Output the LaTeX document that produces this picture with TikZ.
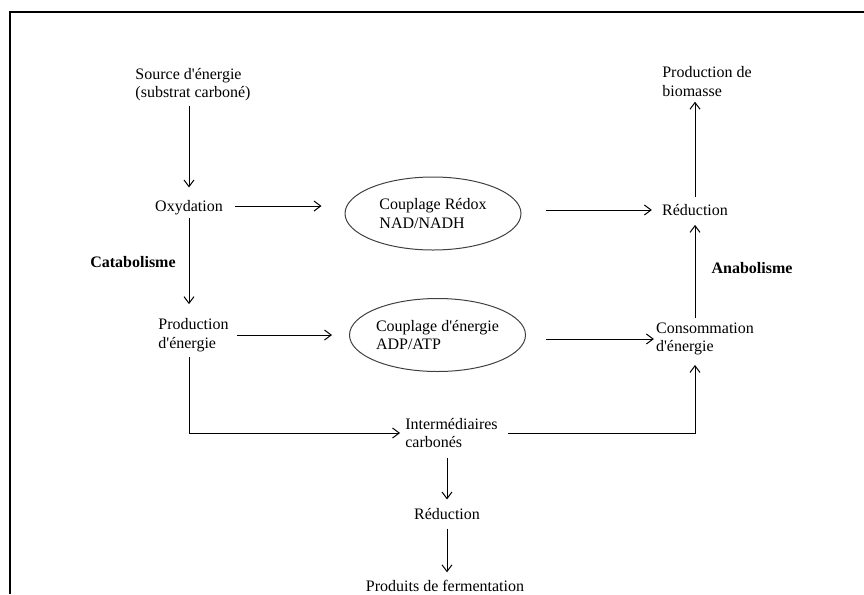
\documentclass[tikz,border=0pt]{standalone}
\usepackage{fontspec}
\setmainfont{Liberation Serif}
\usepackage{tikz}
\usetikzlibrary{arrows.meta,shapes.geometric,calc}
\newcommand{\apo}{\textquotesingle}

\begin{document}
\begin{tikzpicture}[x=0.75pt,y=-0.75pt,
  every node/.style={font=\fontsize{12pt}{14pt}\selectfont,inner sep=0pt,align=left},
  arr/.style={line width=0.75pt,-{Straight Barb[length=5pt,width=7.5pt]}},
  ell/.style={ellipse,draw=black!75,line width=0.75pt,minimum width=132pt,minimum height=54.75pt}]
\useasboundingbox (0,0) rectangle (864,594);
\draw[line width=1.5pt] (864,12) -- (10,12) -- (10,594);
% catabolisme
\node (src) at (193,84.5) {Source d\apo énergie\\(substrat carboné)};
\node (oxy) at (189,208) {Oxydation};
\node[font=\fontsize{12pt}{14pt}\selectfont\bfseries] (cat) at (133,262) {Catabolisme};
\node (prod) at (193.5,335) {Production\\d\apo énergie};
% couplages
\node[ell] (redox) at (433,213.5) {Couplage Rédox\\NAD/NADH};
\node[ell] (nrj) at (437.5,335) {Couplage d\apo énergie\\ADP/ATP};
% anabolisme
\node (red) at (695,210) {Réduction};
\node (bio) at (707,81.5) {Production de\\biomasse};
\node (conso) at (705,339) {Consommation\\d\apo énergie};
\node[font=\fontsize{12pt}{14pt}\selectfont\bfseries] (ana) at (752,268) {Anabolisme};
% fermentation
\node (inter) at (451.5,433) {Intermédiaires\\carbonés};
\node (redf) at (447,514) {Réduction};
\node (ferm) at (445,586) {Produits de fermentation};

\draw[arr,shorten <=3.75pt,shorten >=9.75pt] (src.south -| oxy) -- (oxy.north);
\draw[arr,shorten <=9pt,shorten >=17.25pt] ([yshift=1.5pt]oxy.east) -- ([yshift=1.5pt]oxy.east -| redox.west);
\draw[arr,shorten <=18pt,shorten >=7.5pt] (red.west -| redox.east) -- (red.west);
\draw[arr,shorten <=5.25pt,shorten >=3.75pt] (red.north) -- (red.north |- bio.south);
\draw[arr,shorten <=1.5pt,shorten >=10.5pt] (oxy.south) -- (oxy.south |- prod.north);
\draw[arr,shorten <=6.4pt,shorten >=12.75pt] (prod.east) -- (prod.east -| nrj.west);
\draw[arr,shorten <=15pt,shorten >=1.5pt] (conso.west -| nrj.east) -- (conso.west);
\draw[arr,shorten <=3.3pt,shorten >=6.75pt] (conso.north -| red) -- (red.south);
\draw[arr,shorten <=4pt,shorten >=3.75pt] (prod.south -| oxy) |- (inter.west);
\draw[arr,shorten <=7.5pt,shorten >=7pt] (inter.east) -| (conso.south -| red);
\draw[arr,shorten <=7.5pt,shorten >=6.5pt] (inter.south -| redf) -- (redf.north);
\draw[arr,shorten <=6.5pt,shorten >=5.8pt] (redf.south) -- (redf.south |- ferm.north);
\end{tikzpicture}
\end{document}
